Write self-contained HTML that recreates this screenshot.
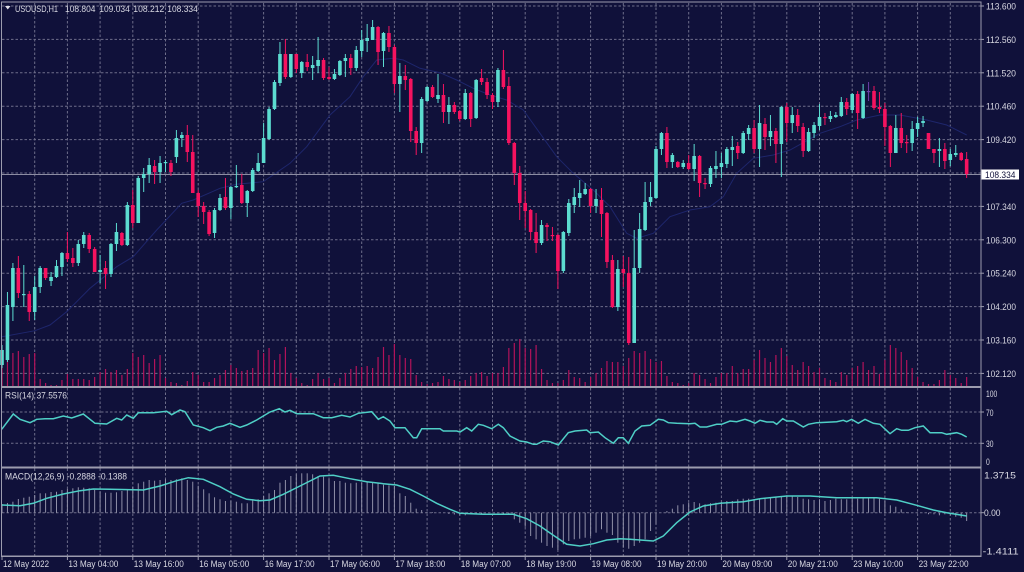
<!DOCTYPE html>
<html><head><meta charset="utf-8">
<style>
html,body{margin:0;padding:0;background:#10113a;overflow:hidden;}
svg{display:block;}
text{font-family:"Liberation Sans",sans-serif;font-size:9.5px;fill:#d8d8e2;}
</style></head>
<body>
<svg id="c" width="1024" height="572" viewBox="0 0 1024 572" xmlns="http://www.w3.org/2000/svg">
<rect width="1024" height="572" fill="#10113a"/>
<g id="grid" stroke="#6e6e8a" stroke-width="1" stroke-dasharray="2.5,2" fill="none"></g>
<g id="vol" stroke="#b3125a" stroke-width="1.2"></g>
<polyline id="ma" fill="none" stroke="#1e266c" stroke-width="1"/>
<line x1="2" y1="174.5" x2="981" y2="174.5" stroke="#8c8ca2" stroke-width="1"/>
<g id="candles"></g>
<g id="hist" stroke="#9090a8" stroke-width="1"></g>
<polyline id="rsi" fill="none" stroke="#4fcfc6" stroke-width="1.5"/>
<polyline id="macd" fill="none" stroke="#4fcfc6" stroke-width="1.5"/>
<!-- borders -->
<g fill="#9c9cae">
<rect x="1" y="1.5" width="980.5" height="1"/>
<rect x="1" y="1.5" width="1" height="555"/>
<rect x="980.5" y="1.5" width="1" height="555"/>
<rect x="1" y="386" width="980.5" height="2"/>
<rect x="1" y="466.5" width="980.5" height="2"/>
<rect x="1" y="555.5" width="980.5" height="1.5"/>
</g>
<g id="ticks" stroke="#9c9cae" stroke-width="1"></g>
<!-- header -->
<polygon points="5,6 10.5,6 7.75,9.5" fill="#e0e0e8"/>
<text x="15" y="12" textLength="43" lengthAdjust="spacingAndGlyphs">USOUSD,H1</text>
<text x="65" y="12" textLength="30.5" lengthAdjust="spacingAndGlyphs">108.804</text>
<text x="99.3" y="12" textLength="30.5" lengthAdjust="spacingAndGlyphs">109.034</text>
<text x="133.3" y="12" textLength="31" lengthAdjust="spacingAndGlyphs">108.212</text>
<text x="167.3" y="12" textLength="30.5" lengthAdjust="spacingAndGlyphs">108.334</text>
<text x="5" y="398.5" textLength="62" lengthAdjust="spacingAndGlyphs">RSI(14) 37.5576</text>
<text x="5" y="479.5" textLength="122" lengthAdjust="spacingAndGlyphs">MACD(12,26,9) -0.2888 -0.1388</text>
<!-- price axis -->
<text x="986" y="9.5" textLength="30" lengthAdjust="spacingAndGlyphs">113.600</text>
<text x="986" y="43" textLength="30" lengthAdjust="spacingAndGlyphs">112.560</text>
<text x="986" y="76.3" textLength="30" lengthAdjust="spacingAndGlyphs">111.520</text>
<text x="986" y="109.7" textLength="30" lengthAdjust="spacingAndGlyphs">110.460</text>
<text x="986" y="143.1" textLength="30" lengthAdjust="spacingAndGlyphs">109.420</text>
<text x="986" y="209.9" textLength="30" lengthAdjust="spacingAndGlyphs">107.340</text>
<text x="986" y="243.3" textLength="30" lengthAdjust="spacingAndGlyphs">106.300</text>
<text x="986" y="276.7" textLength="30" lengthAdjust="spacingAndGlyphs">105.240</text>
<text x="986" y="310.1" textLength="30" lengthAdjust="spacingAndGlyphs">104.200</text>
<text x="986" y="343.5" textLength="30" lengthAdjust="spacingAndGlyphs">103.160</text>
<text x="986" y="376.9" textLength="30" lengthAdjust="spacingAndGlyphs">102.120</text>
<rect x="981.5" y="169.5" width="37.5" height="10" fill="#ffffff"/>
<text x="985" y="178" textLength="30.5" lengthAdjust="spacingAndGlyphs" style="fill:#10113a">108.334</text>
<!-- rsi axis -->
<text x="986" y="397" textLength="11.3" lengthAdjust="spacingAndGlyphs">100</text>
<text x="986" y="415.8" textLength="7.5" lengthAdjust="spacingAndGlyphs">70</text>
<text x="986" y="446.8" textLength="7.5" lengthAdjust="spacingAndGlyphs">30</text>
<text x="986" y="465.2" textLength="3.8" lengthAdjust="spacingAndGlyphs">0</text>
<!-- macd axis -->
<text x="984" y="478.5" textLength="32" lengthAdjust="spacingAndGlyphs">1.3715</text>
<text x="984" y="516.2" textLength="16.5" lengthAdjust="spacingAndGlyphs">0.00</text>
<text x="982.7" y="554.5" textLength="36" lengthAdjust="spacingAndGlyphs">-1.4111</text>
<!-- time axis -->
<g id="time">
<text x="3" y="567" textLength="46" lengthAdjust="spacingAndGlyphs">12 May 2022</text>
<text x="68.4" y="567" textLength="50" lengthAdjust="spacingAndGlyphs">13 May 04:00</text>
<text x="133.8" y="567" textLength="50" lengthAdjust="spacingAndGlyphs">13 May 16:00</text>
<text x="199.2" y="567" textLength="50" lengthAdjust="spacingAndGlyphs">16 May 05:00</text>
<text x="264.6" y="567" textLength="50" lengthAdjust="spacingAndGlyphs">16 May 17:00</text>
<text x="330" y="567" textLength="50" lengthAdjust="spacingAndGlyphs">17 May 06:00</text>
<text x="395.4" y="567" textLength="50" lengthAdjust="spacingAndGlyphs">17 May 18:00</text>
<text x="460.8" y="567" textLength="50" lengthAdjust="spacingAndGlyphs">18 May 07:00</text>
<text x="526.2" y="567" textLength="50" lengthAdjust="spacingAndGlyphs">18 May 19:00</text>
<text x="591.6" y="567" textLength="50" lengthAdjust="spacingAndGlyphs">19 May 08:00</text>
<text x="657" y="567" textLength="50" lengthAdjust="spacingAndGlyphs">19 May 20:00</text>
<text x="722.4" y="567" textLength="50" lengthAdjust="spacingAndGlyphs">20 May 09:00</text>
<text x="787.8" y="567" textLength="50" lengthAdjust="spacingAndGlyphs">20 May 21:00</text>
<text x="853.2" y="567" textLength="50" lengthAdjust="spacingAndGlyphs">23 May 10:00</text>
<text x="918.6" y="567" textLength="50" lengthAdjust="spacingAndGlyphs">23 May 22:00</text>
</g>
</svg>
<script>
(function(){
var NS='http://www.w3.org/2000/svg';
function el(tag,a,p){var e=document.createElementNS(NS,tag);for(var k in a)e.setAttribute(k,a[k]);p.appendChild(e);return e;}
function X(i){return 2+5.45*i;}
var grid=document.getElementById('grid');
for(var k=1;k<=29;k++){var x=(2+32.7*k).toFixed(1);
 el('line',{x1:x,y1:3,x2:x,y2:386},grid);
 el('line',{x1:x,y1:388,x2:x,y2:466.5},grid);
 el('line',{x1:x,y1:468.5,x2:x,y2:555.5},grid);}
for(var j=0;j<12;j++){var y=(6+33.4*j).toFixed(1);el('line',{x1:2,y1:y,x2:980.5,y2:y},grid);}
el('line',{x1:2,y1:412,x2:980.5,y2:412},grid);
el('line',{x1:2,y1:443.3,x2:980.5,y2:443.3},grid);
el('line',{x1:2,y1:512.7,x2:980.5,y2:512.7},grid);
var ticks=document.getElementById('ticks');
for(var t=0;t<15;t++){var tx=(2+65.4*t).toFixed(1);el('line',{x1:tx,y1:556,x2:tx,y2:560},ticks);}
for(var j2=0;j2<12;j2++){var ty=(6+33.4*j2).toFixed(1);el('line',{x1:981,y1:ty,x2:984,y2:ty},ticks);}
[412,443.3,512.7].forEach(function(v){el('line',{x1:981,y1:v,x2:984,y2:v},ticks);});

var C=[[365,350,345,368],[360,305,292,362],[307,268,263,321],[268,293,256,298],[295,294,265,307],[294,312,291,321],[312,287,276,320],[287,268,266,293],[268,278,268,280],[281,277,272,286],
[277,266,260,278],[267,253,252,276],[253,259,232,262],[258,263,248,267],[263,244,240,266],[244,235,232,248],[235,249,233,253],[249,272,247,272],[272,270,255,283],[268,274,261,289],
[274,244,243,277],[244,232,223,251],[233,245,232,246],[245,205,202,246],[205,223,190,228],[223,178,176,223],[178,174,168,192],[174,165,158,183],[166,172,160,184],[172,163,156,183],
[163,162,160,172],[163,172,160,176],[157,138,130,163],[138,135,132,147],[135,152,125,162],[152,193,135,193],[193,206,190,217],[206,212,202,224],[212,234,210,236],[233,210,208,238],
[210,198,194,211],[197,208,178,210],[208,187,186,219],[187,186,165,188],[185,203,174,204],[203,191,190,217],[191,170,168,192],[171,163,153,172],[163,138,123,163],[139,109,107,140],
[109,82,80,110],[83,54,42,86],[54,77,39,79],[77,54,54,78],[54,69,54,73],[73,62,61,78],[62,67,54,71],[68,65,56,80],[66,60,37,73],[60,78,58,80],
[77,79,67,80],[79,74,69,80],[75,61,60,76],[61,58,54,77],[58,68,54,75],[68,50,46,71],[51,40,30,57],[41,38,24,52],[40,27,20,40],[27,52,26,65],
[51,33,32,67],[33,47,26,52],[47,84,45,93],[84,76,63,112],[76,80,65,90],[79,131,78,142],[131,143,127,155],[143,99,97,153],[101,87,86,102],[87,97,85,98],
[99,95,74,103],[95,112,84,123],[112,105,97,124],[105,112,102,114],[111,119,110,121],[119,93,89,120],[93,119,92,127],[118,80,79,119],[78,82,69,85],[82,95,78,99],
[95,102,93,109],[102,70,68,107],[70,87,50,89],[86,143,77,145],[143,173,142,185],[173,203,166,220],[203,211,191,228],[210,232,209,240],[232,243,213,253],[243,225,220,245],
[225,227,223,241],[235,236,227,241],[235,271,234,289],[271,232,231,273],[233,203,199,236],[205,197,188,213],[198,193,180,207],[194,189,183,195],[189,206,188,213],[206,199,189,213],
[200,214,188,237],[213,262,212,268],[260,307,255,308],[307,269,260,311],[269,273,256,287],[273,343,257,345],[343,268,230,343],[268,229,213,273],[230,202,182,231],[202,197,182,206],
[198,149,146,199],[149,133,132,155],[133,162,127,168],[162,155,153,168],[162,167,161,168],[167,163,160,169],[163,169,155,170],[169,156,144,181],[156,183,155,197],[183,184,178,189],
[184,168,166,187],[169,166,151,178],[167,163,153,178],[164,149,147,168],[150,147,136,166],[146,153,142,159],[153,133,131,154],[134,128,125,140],[128,149,120,153],[149,123,105,167],
[124,137,118,150],[137,131,115,146],[131,144,128,163],[144,107,106,177],[107,123,103,142],[123,115,107,133],[115,126,109,132],[127,151,123,157],[151,132,128,152],[133,125,122,138],
[126,117,104,130],[117,118,113,125],[119,116,111,122],[117,115,112,118],[116,102,97,117],[102,109,98,115],[110,94,93,113],[94,113,91,129],[118,91,84,119],[91,92,82,101],
[91,108,86,110],[107,109,92,113],[109,127,103,146],[126,153,125,167],[153,128,115,153],[128,143,113,148],[142,143,135,153],[143,129,121,151],[129,123,117,137],[123,121,116,127],
[133,149,133,149],[149,153,149,163],[151,149,138,167],[149,161,143,169],[160,154,149,166],[155,153,145,157],[153,160,152,161],[159,174,152,178]];
var V=[360,352,353,351,357,354,353,379,383,385,385,380,374,379,379,379,380,377,372,369,
372,370,375,369,353,357,355,363,359,355,378,382,383,385,381,372,375,382,382,378,
375,370,365,368,371,370,368,350,353,348,360,354,347,373,378,383,385,379,373,379,
378,383,378,373,369,366,367,366,368,357,347,355,344,355,358,359,375,382,384,383,
382,376,379,380,382,380,376,373,372,376,373,373,367,348,343,339,348,349,345,369,
380,383,383,380,370,377,378,382,377,373,368,361,362,362,366,358,351,353,351,359,
362,361,376,382,383,385,383,373,375,379,383,377,373,373,366,373,369,369,360,350,
358,362,355,348,356,365,370,362,366,372,368,378,380,382,372,375,368,366,362,370,
366,374,360,345,348,352,360,368,377,382,384,384,380,370,375,378,383,377];
var vol=document.getElementById('vol');
for(var i=0;i<V.length;i++){var vx=X(i).toFixed(2);el('line',{x1:vx,y1:386,x2:vx,y2:V[i]},vol);}
var cg=document.getElementById('candles');
var CY='#5cdcd0',PK='#f5135f',PU='#6a3fa6';
for(var i2=0;i2<C.length;i2++){var c=C[i2],o=c[0],cl=c[1],h=c[2],l=c[3];var x=X(i2);
 var col=cl<o?CY:PK; if(i2===159)col=PU;
 el('line',{x1:x.toFixed(2),y1:h,x2:x.toFixed(2),y2:l,stroke:col,'stroke-width':1},cg);
 var top=Math.min(o,cl),ht=Math.max(1.2,Math.abs(o-cl));
 el('rect',{x:(x-1.8).toFixed(2),y:top,width:3.6,height:ht,fill:col},cg);}
function pts(a){var s=[];for(var i=0;i<a.length;i+=2)s.push(a[i]+','+a[i+1]);return s.join(' ');}
document.getElementById('ma').setAttribute('points',pts([2,336.7,35,330.7,50,325,66.7,311.7,90,288.3,116.7,266.7,133.3,256.7,156.7,230,181.7,203.3,193.3,200,220,188.3,236.7,184.3,263.3,181.7,290,163.3,306.7,146.7,330,115,350,96.7,363.3,76.7,376.7,60,393.3,58.3,403.3,60,420,68.3,440,72.7,456.7,80,473.3,88.3,490,95,506.7,100,523.3,110,556.7,156.7,573.3,173.3,593.3,190,610,206.7,626.7,233.3,636.7,238.3,653.3,233.3,670,216.7,690,210,710,206.7,723.3,196.7,736.7,173.3,753.3,158.3,773.3,155,790,150,820,133.3,840,126.7,856.7,120,880,115,900,115,926.7,120,946.7,125,966.7,135]));
document.getElementById('rsi').setAttribute('points',pts([1.7,429.3,13.3,414,20,419.3,30,422.7,36.7,419.3,45,418.7,53.3,418.7,63.3,416,71.7,418,83.3,414,95,423.3,106.7,424,116.7,418.3,121.7,420,126.7,415,133.3,418.3,138.3,412.7,153.3,412.7,166.7,411.3,171.7,414.7,180,410,185,411.7,193.3,425,203.3,427.7,210,430.7,216.7,427.3,223.3,426,230,423.3,240,427.3,246.7,425,256.7,420,263.3,416,270,412,279.3,408.7,285,412,290,410.3,296.7,413.7,313.3,413.7,323.3,417.7,331.7,417.7,341.7,415.3,350,417,358.3,413.3,371.7,411.7,378.3,419.3,383.3,416.7,390,421,395,427.7,405,427.7,413.3,437.7,416.7,437.7,421.7,428.7,440,428.7,443.3,431,456.7,431,460,432,466.7,427.7,471.7,431,478.3,424.3,483.3,425.3,491.7,428.7,498.3,424.3,503.3,427.7,510,436,520,441,526.7,442,533.3,444.3,536.7,444.3,543.3,441,550,441.7,558.3,445,568.3,432.7,575,431,586.7,430,590,432.7,598.3,432,605,437.7,613.3,443.3,618.3,437.7,623.3,437.7,628.3,443.3,635,431,641.7,426,650,425.3,658.3,419.3,663.3,420,668.3,422.7,676.7,423.3,690,423.7,695,423.3,700,427,706.7,427,716.7,424.3,721.7,424.3,730,421,736.7,421.7,745,419.3,750,421,755,423.3,760,420.3,766.7,422,773.3,422,776.7,424.3,782.7,418.7,786.7,421,793.3,421,803.3,427,808.3,424.3,816.7,422.7,836.7,421.7,843.3,420.3,846.7,421.7,851.7,419.3,858.3,423.3,865,419.3,873.3,423.3,880,424.3,890,433.7,896.7,428.7,901.7,430.3,908.3,430.3,915,427.7,923.3,426,930,432.7,941.7,432.7,946.7,434.3,956.7,432.7,961.7,434.3,966.7,437]));
document.getElementById('macd').setAttribute('points',pts([2,505,20,505.7,33.3,503.3,46.7,498.3,63.3,494,80,490.7,93.3,489,110,489.3,143.3,490,160,486,176.7,480.7,188.3,477.7,203.3,479.3,220,486.7,233.3,494,246.7,499.3,260,500.7,270,500,283.3,494.3,300,486,320,476,333.3,475.3,350,478.7,366.7,481.7,383.3,483.7,396.7,485,410,489.3,423.3,496,436.7,503.3,450,509.3,460,513.3,483.3,514.3,513.3,514.3,526.7,518.7,540,526,553.3,535.3,566.7,544.3,580,546,593.3,543.7,606.7,540,620,538.7,630,539.3,653.3,541,663.3,536,676.7,522.7,690,512,703.3,506,720,503.3,743.3,501.7,760,498.7,786.7,496,810,496,836.7,497.7,876.7,497.7,896.7,500,916.7,505.3,933.3,510,946.7,512.7,966.7,516]));
var H=[504,503,501.7,499,497.7,496.7,495,493.3,493.3,492,491.7,490,489,488.3,487.3,487.7,488.3,490,491.7,492.7,
492.7,492.3,491,489.3,486.7,483.3,481.7,480,480.7,480,479.3,480,479.3,478.3,480,481.7,485.7,489.3,493.3,497.3,
499.3,501,501,501.7,503.3,503.3,499.3,499.3,496,493.3,490,482.7,480,476,474.3,473.3,473.3,474.3,476,476.7,
478.7,481,481,482.7,483.3,482.7,482.7,482,482,482.7,484.7,485.3,486,493.3,496,502.7,508.7,510,512,512,
512.7,512.7,514,514.5,515.3,515.3,514.3,514,513.5,513,513,513,513.5,514.3,519.3,522.7,526.7,536,539.3,542.7,
546,547.7,550,544.3,541,539.3,538.7,537.7,536,532.7,529.3,532.7,535,542.7,547.7,548.7,546,542.7,539.3,531,
524.3,512.7,511,508.7,505.3,504.3,502.7,502,503.3,504.3,503.3,502.7,502,501,501,499.3,498.7,498.7,499.3,498.7,
497.7,497.7,496.7,497,495.3,496,497,498.7,499.3,500,499.3,501,500,498.7,499.3,499.3,497.7,498.7,497.7,497.7,
497.7,498.7,501,505.3,506.7,509.3,512,512.7,512.7,512.7,514.3,514.3,515.3,514.3,515.3,516.7,517.7,521];
var hg=document.getElementById('hist');
for(var i3=0;i3<H.length;i3++){var hx=X(i3).toFixed(2);if(Math.abs(H[i3]-512.7)>0.4)el('line',{x1:hx,y1:512.7,x2:hx,y2:H[i3]},hg);}
})();
</script>
</body></html>
